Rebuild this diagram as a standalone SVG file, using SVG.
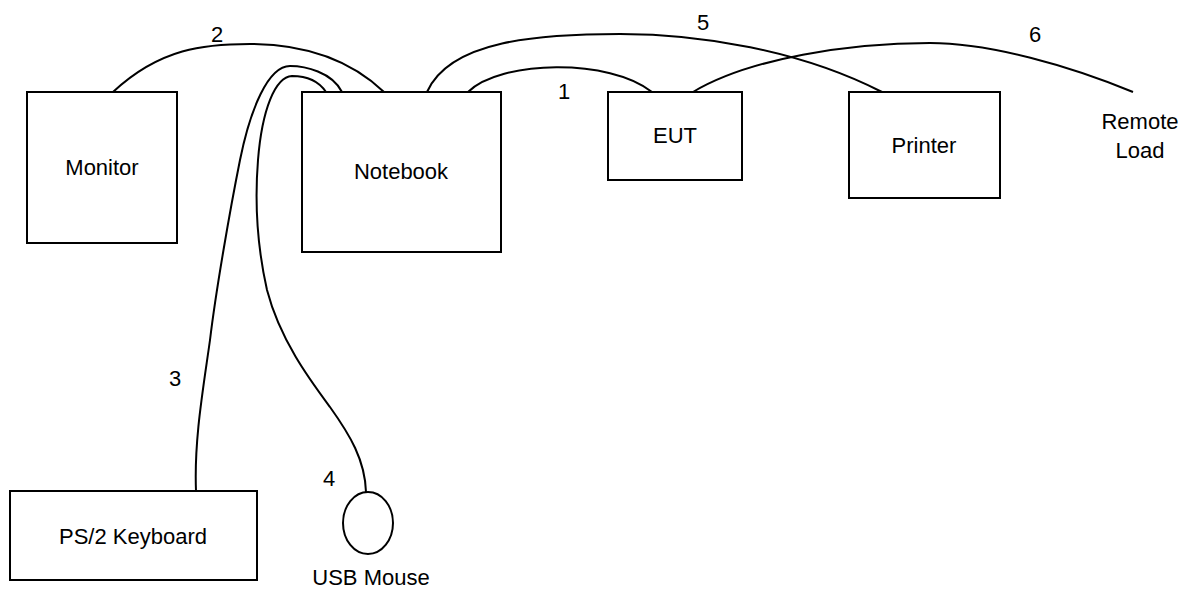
<svg xmlns="http://www.w3.org/2000/svg" width="1185" height="589" viewBox="0 0 1185 589">
<style>
.box{fill:#fff;stroke:#000;stroke-width:2}
.cable{fill:none;stroke:#000;stroke-width:2}
text{font-family:"Liberation Sans",Arial,sans-serif;font-size:22px;fill:#000;text-anchor:middle}
</style>
<rect width="1185" height="589" fill="#fff"/>
<g id="connectors">
<path class="cable" d="M113,92 C160,48 205,44 250,44 C295,44 345,55 384,92"/>
<path class="cable" d="M468,92 C500,60 610,58 652,92"/>
<path class="cable" d="M427,92 C450,40 540,34 620,34 C700,34 800,50 882,92"/>
<path class="cable" d="M693,92 C750,58 850,43 930,43 C990,43 1070,66 1133,92"/>
<path class="cable" d="M342,92 C332,72 305,66 290,66 C268,66 250,110 240,160 C230,210 216,290 210,340 C203,390 194,440 196,491"/>
<path class="cable" d="M326,92 C318,80 305,76 292,76 C275,77 262,110 258,160 C254,210 258,250 267,290 C280,340 310,380 330,407 C350,435 365,460 366,492"/>
<text x="217" y="42">2</text>
<text x="564" y="99">1</text>
<text x="703" y="30">5</text>
<text x="1035" y="42">6</text>
<text x="175" y="386">3</text>
<text x="329" y="486">4</text>
</g>
<g id="monitor"><rect class="box" x="27" y="92" width="150" height="151"/><text x="102" y="175">Monitor</text></g>
<g id="notebook"><rect class="box" x="302" y="92" width="199" height="160"/><text x="401" y="179">Notebook</text></g>
<g id="eut"><rect class="box" x="608" y="92" width="134" height="88"/><text x="675" y="143">EUT</text></g>
<g id="printer"><rect class="box" x="849" y="92" width="151" height="106"/><text x="924" y="153">Printer</text></g>
<g id="remote-load"><text x="1140" y="129">Remote</text><text x="1140" y="158">Load</text></g>
<g id="keyboard"><rect class="box" x="10" y="491" width="247" height="89"/><text x="133" y="544">PS/2 Keyboard</text></g>
<g id="mouse"><ellipse class="box" cx="368" cy="523" rx="25" ry="31"/><text x="371" y="585">USB Mouse</text></g>
</svg>
